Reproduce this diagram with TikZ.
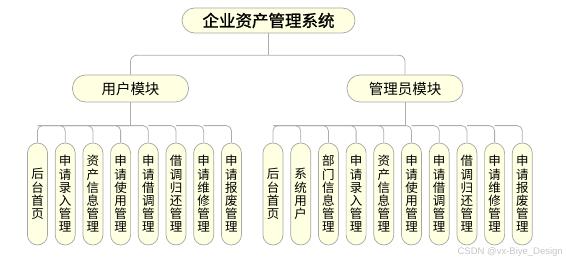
\documentclass[tikz,border=0pt]{standalone}
\usepackage{fontspec}
\setmainfont{Noto Sans CJK SC}
\newfontfamily\rootfont[FakeBold=1.2]{Noto Sans CJK SC}
\newfontfamily\markfont{Liberation Sans}
\usetikzlibrary{positioning}
\definecolor{boxfill}{HTML}{FFFFE1}
\definecolor{boxline}{HTML}{A6A6A6}
\definecolor{linkline}{HTML}{ADADAD}

\begin{document}
\begin{tikzpicture}[
        x=1pt, y=1pt,
        node distance=7pt,
        every node/.style={align=center, inner sep=0pt, text=black},
        rootbox/.style={draw=boxline, fill=boxfill, line width=0.7pt, rounded corners=12.5pt, minimum width=173pt, minimum height=25pt, font=\rootfont\fontsize{16.5}{18}\selectfont},
        modbox/.style={draw=boxline, fill=boxfill, line width=0.7pt, rounded corners=13pt, minimum width=116pt, minimum height=27pt, font=\fontsize{14.5}{16}\selectfont},
        leafbox/.style={draw=boxline, fill=boxfill, line width=0.7pt, rounded corners=10pt, minimum width=20pt, minimum height=102pt, font=\fontsize{12.5}{13.2}\selectfont},
        link/.style={draw=linkline, line width=0.8pt},
        elbow/.style={link, rounded corners=5pt},
        wmark/.style={text=gray!45, font=\markfont\fontsize{9.5}{10}\selectfont}
    ]
        \useasboundingbox (0,0) rectangle (566,-262);

        \node[rootbox] (root) at (268.5,-20.5) {企业资产管理系统};
        \node[modbox] (user) at (130.5,-88.5) {用户模块};
        \node[modbox] (admin) at (405,-88.5) {管理员模块};

        % user module
        \node[leafbox] (u1) at (37.5,-194) {后\\台\\首\\页};
        \node[leafbox, right=of u1] (u2) {申\\请\\录\\入\\管\\理};
        \node[leafbox, right=of u2] (u3) {资\\产\\信\\息\\管\\理};
        \node[leafbox, right=of u3] (u4) {申\\请\\使\\用\\管\\理};
        \node[leafbox, right=of u4] (u5) {申\\请\\借\\调\\管\\理};
        \node[leafbox, right=of u5] (u6) {借\\调\\归\\还\\管\\理};
        \node[leafbox, right=of u6] (u7) {申\\请\\维\\修\\管\\理};
        \node[leafbox, right=of u7] (u8) {申\\请\\报\\废\\管\\理};

        % admin module
        \node[leafbox] (a1) at (273,-194) {后\\台\\首\\页};
        \node[leafbox, right=of a1] (a2) {系\\统\\用\\户};
        \node[leafbox, right=of a2] (a3) {部\\门\\信\\息\\管\\理};
        \node[leafbox, right=of a3] (a4) {申\\请\\录\\入\\管\\理};
        \node[leafbox, right=of a4] (a5) {资\\产\\信\\息\\管\\理};
        \node[leafbox, right=of a5] (a6) {申\\请\\使\\用\\管\\理};
        \node[leafbox, right=of a6] (a7) {申\\请\\借\\调\\管\\理};
        \node[leafbox, right=of a7] (a8) {借\\调\\归\\还\\管\\理};
        \node[leafbox, right=of a8] (a9) {申\\请\\维\\修\\管\\理};
        \node[leafbox, right=of a9] (a10) {申\\请\\报\\废\\管\\理};

        \coordinate[below=22pt of root.south] (rbus);
        \coordinate[above=17pt of u1.north] (bus);

        \draw[link] (root.south) -- (rbus);
        \draw[elbow, rounded corners=6pt] (rbus) -| (user);
        \draw[elbow, rounded corners=6pt] (rbus) -| (admin);

        \draw[link] (user.south) -- (user.south |- bus);
        \draw[elbow] (user.south |- bus) -| (u1);
        \draw[elbow] (u1 |- bus) -| (u2);
        \draw[elbow] (u2 |- bus) -| (u3);
        \draw[elbow] (u3 |- bus) -| (u4);
        \draw[elbow] (u4 |- bus) -| (u5);
        \draw[elbow] (u5 |- bus) -| (u6);
        \draw[elbow] (u6 |- bus) -| (u7);
        \draw[elbow] (u7 |- bus) -| (u8);

        \draw[link] (admin.south) -- (admin.south |- bus);
        \draw[elbow] (admin.south |- bus) -| (a1);
        \draw[elbow] (a1 |- bus) -| (a2);
        \draw[elbow] (a2 |- bus) -| (a3);
        \draw[elbow] (a3 |- bus) -| (a4);
        \draw[elbow] (a4 |- bus) -| (a5);
        \draw[elbow] (a5 |- bus) -| (a6);
        \draw[elbow] (a6 |- bus) -| (a7);
        \draw[elbow] (a7 |- bus) -| (a8);
        \draw[elbow] (a8 |- bus) -| (a9);
        \draw[elbow] (a9 |- bus) -| (a10);

        \node[wmark, anchor=east] (wm) at (563,-252.5) {CSDN @vx-Biye\_Design};
    \end{tikzpicture}
\end{document}
